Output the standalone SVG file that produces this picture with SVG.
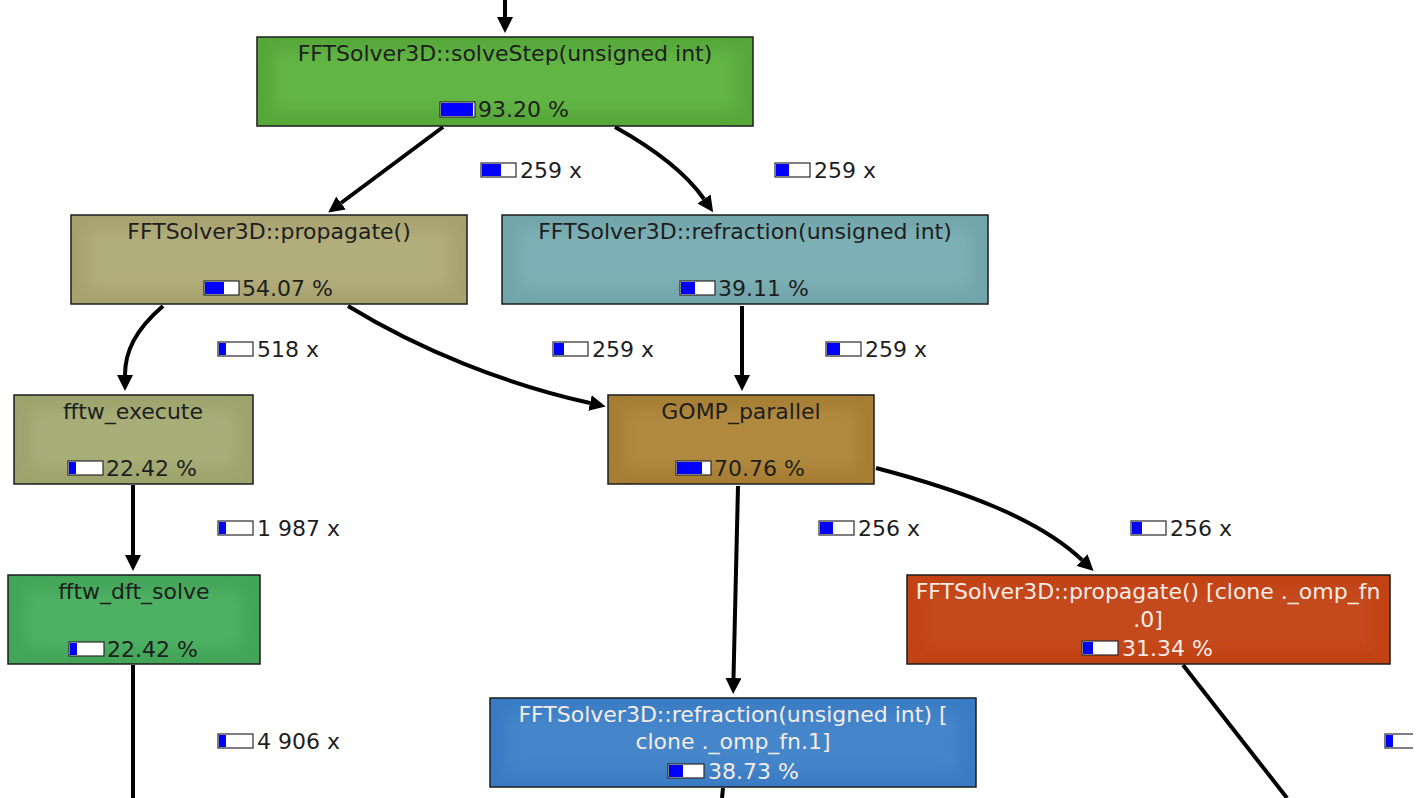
<svg xmlns="http://www.w3.org/2000/svg" width="1427" height="798" viewBox="0 0 1427 798">
  <style>
    .box { stroke: #1c1c1c; stroke-width: 1.5; }
    .glow { filter: url(#soft); }
    .t { font-family: "DejaVu Sans", "Noto Sans", sans-serif; font-size: 22px; fill: #1e1e1e; }
    .tl { font-family: "DejaVu Sans", "Noto Sans", sans-serif; font-size: 22px; fill: #f4ece6; }
    .mid { text-anchor: middle; }
    .bar { fill: #ffffff; stroke: #2a2a2a; stroke-width: 1.2; }
    .fill { fill: #0000ff; }
    .edge { fill: none; stroke: #000; stroke-width: 4; marker-end: url(#arrow); }
    .edge.plain { marker-end: none; }
  </style>
  <defs>
    <filter id="soft" x="-10%" y="-30%" width="120%" height="160%">
      <feGaussianBlur stdDeviation="7"/>
    </filter>
    <marker id="arrow" markerUnits="userSpaceOnUse" markerWidth="17" markerHeight="16" refX="0" refY="8" orient="auto">
      <path d="M0,0 L16,8 L0,16 z" fill="#000"/>
    </marker>
    <clipPath id="page">
      <rect x="0" y="0" width="1413" height="798"/>
    </clipPath>
  </defs>

  <!-- call edges -->
  <g id="edges">
    <path class="edge" d="M505,0 V17"/>
    <path class="edge" d="M443,127 L341,203"/>
    <path class="edge" d="M615,127 C658,151 688,176 704,199"/>
    <path class="edge" d="M163,306 C135,330 125,352 125,375"/>
    <path class="edge" d="M348,306 C420,350 505,384 590,403"/>
    <path class="edge" d="M742,306 V375"/>
    <path class="edge" d="M133,485 V555"/>
    <path class="edge" d="M738,486 L733.5,678"/>
    <path class="edge" d="M876,468 C960,490 1038,518 1082,560"/>
    <path class="edge plain" d="M133,665 V798"/>
    <path class="edge plain" d="M1183,665 L1287,798"/>
    <path class="edge plain" d="M723,788 L722,798"/>
  </g>

  <!-- call count labels -->
  <g id="edge-labels">
    <rect class="bar" x="481" y="163" width="35" height="14"/><rect class="fill" x="482" y="164" width="19" height="12"/>
    <text class="t" x="520" y="178">259 x</text>
    <rect class="bar" x="775" y="163" width="35" height="14"/><rect class="fill" x="776" y="164" width="13" height="12"/>
    <text class="t" x="814" y="178">259 x</text>
    <rect class="bar" x="218" y="342" width="35" height="14"/><rect class="fill" x="219" y="343" width="7" height="12"/>
    <text class="t" x="257" y="357">518 x</text>
    <rect class="bar" x="553" y="342" width="35" height="14"/><rect class="fill" x="554" y="343" width="10" height="12"/>
    <text class="t" x="592" y="357">259 x</text>
    <rect class="bar" x="826" y="342" width="35" height="14"/><rect class="fill" x="827" y="343" width="13" height="12"/>
    <text class="t" x="865" y="357">259 x</text>
    <rect class="bar" x="218" y="521" width="35" height="14"/><rect class="fill" x="219" y="522" width="7" height="12"/>
    <text class="t" x="257" y="536">1 987 x</text>
    <rect class="bar" x="819" y="521" width="35" height="14"/><rect class="fill" x="820" y="522" width="13" height="12"/>
    <text class="t" x="858" y="536">256 x</text>
    <rect class="bar" x="1131" y="521" width="35" height="14"/><rect class="fill" x="1132" y="522" width="10" height="12"/>
    <text class="t" x="1170" y="536">256 x</text>
    <rect class="bar" x="218" y="734" width="35" height="14"/><rect class="fill" x="219" y="735" width="7" height="12"/>
    <text class="t" x="257" y="749">4 906 x</text>
    <g clip-path="url(#page)">
      <rect class="bar" x="1385" y="734" width="35" height="14"/><rect class="fill" x="1386" y="735" width="7" height="12"/>
    </g>
  </g>

  <g id="solveStep">
    <rect class="box" x="257" y="37" width="496" height="89" fill="#56a83a"/>
    <rect class="glow" x="275" y="52" width="460" height="58" fill="#62b644"/>
    <text class="t mid" x="505" y="61">FFTSolver3D::solveStep(unsigned int)</text>
    <rect class="bar" x="440" y="102" width="35" height="15"/><rect class="fill" x="441" y="103" width="32" height="13"/>
    <text class="t" x="478" y="117">93.20 %</text>
  </g>

  <g id="propagate">
    <rect class="box" x="71" y="215" width="396" height="89" fill="#a7a26f"/>
    <rect class="glow" x="89" y="230" width="360" height="58" fill="#b2ae7b"/>
    <text class="t mid" x="269" y="239">FFTSolver3D::propagate()</text>
    <rect class="bar" x="204" y="281" width="35" height="14"/><rect class="fill" x="205" y="282" width="19" height="12"/>
    <text class="t" x="242" y="296">54.07 %</text>
  </g>

  <g id="refraction">
    <rect class="box" x="502" y="215" width="486" height="89" fill="#72a6ab"/>
    <rect class="glow" x="520" y="230" width="450" height="58" fill="#7db0b6"/>
    <text class="t mid" x="745" y="239">FFTSolver3D::refraction(unsigned int)</text>
    <rect class="bar" x="680" y="281" width="35" height="14"/><rect class="fill" x="681" y="282" width="14" height="12"/>
    <text class="t" x="718" y="296">39.11 %</text>
  </g>

  <g id="fftw_execute">
    <rect class="box" x="14" y="395" width="239" height="89" fill="#9ca46c"/>
    <rect class="glow" x="32" y="410" width="203" height="58" fill="#a7ae78"/>
    <text class="t mid" x="133" y="419">fftw_execute</text>
    <rect class="bar" x="68" y="461" width="35" height="14"/><rect class="fill" x="69" y="462" width="7" height="12"/>
    <text class="t" x="106" y="476">22.42 %</text>
  </g>

  <g id="GOMP_parallel">
    <rect class="box" x="608" y="395" width="266" height="89" fill="#a67e34"/>
    <rect class="glow" x="626" y="410" width="230" height="58" fill="#b18a3f"/>
    <text class="t mid" x="741" y="419">GOMP_parallel</text>
    <rect class="bar" x="676" y="461" width="35" height="14"/><rect class="fill" x="677" y="462" width="25" height="12"/>
    <text class="t" x="714" y="476">70.76 %</text>
  </g>

  <g id="fftw_dft_solve">
    <rect class="box" x="8" y="575" width="252" height="89" fill="#43a558"/>
    <rect class="glow" x="26" y="590" width="216" height="58" fill="#4db063"/>
    <text class="t mid" x="134" y="599">fftw_dft_solve</text>
    <rect class="bar" x="69" y="642" width="35" height="14"/><rect class="fill" x="70" y="643" width="7" height="12"/>
    <text class="t" x="107" y="657">22.42 %</text>
  </g>

  <g id="propagate_clone">
    <rect class="box" x="907" y="575" width="483" height="89" fill="#c24316"/>
    <rect class="glow" x="925" y="590" width="447" height="58" fill="#c44a1c"/>
    <text class="tl mid" x="1148" y="599">FFTSolver3D::propagate() [clone ._omp_fn</text>
    <text class="tl mid" x="1148" y="627">.0]</text>
    <rect class="bar" x="1082" y="641" width="36" height="14"/><rect class="fill" x="1083" y="642" width="10" height="12"/>
    <text class="tl" x="1122" y="656">31.34 %</text>
  </g>

  <g id="refraction_clone">
    <rect class="box" x="490" y="698" width="486" height="89" fill="#3a7cc4"/>
    <rect class="glow" x="508" y="713" width="450" height="58" fill="#4585ca"/>
    <text class="tl mid" x="733" y="722">FFTSolver3D::refraction(unsigned int) [</text>
    <text class="tl mid" x="733" y="749">clone ._omp_fn.1]</text>
    <rect class="bar" x="668" y="764" width="36" height="14"/><rect class="fill" x="669" y="765" width="14" height="12"/>
    <text class="tl" x="708" y="779">38.73 %</text>
  </g>
</svg>
